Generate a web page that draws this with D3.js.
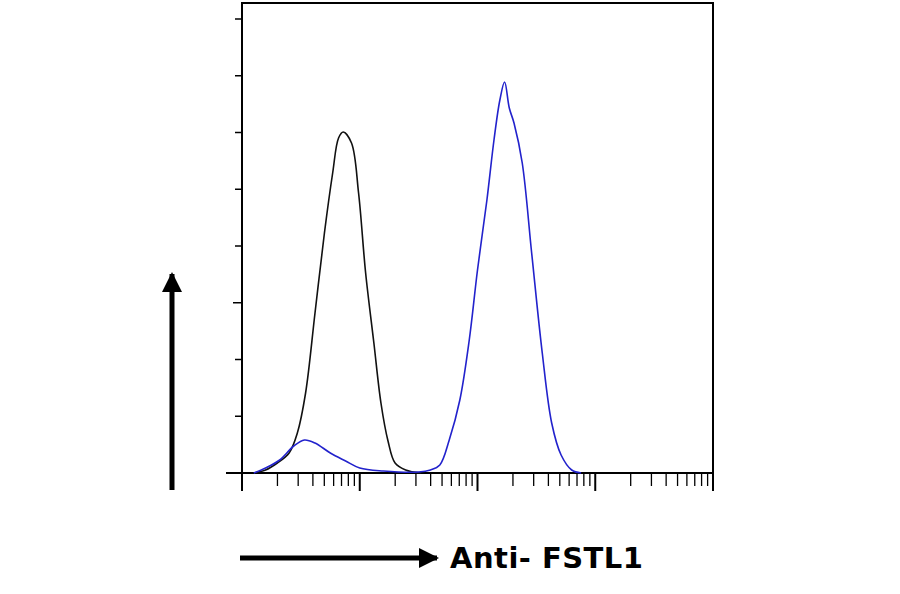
<!DOCTYPE html><html><head><meta charset="utf-8"><script src="https://cdn.jsdelivr.net/npm/d3@7"></script>
<style>body{margin:0;background:#fff}</style></head><body><svg id="c" width="900" height="594"></svg><script>
// x in decades (log10 of fluorescence, 10^0..10^4); y = event count
const blackX=[0.1,0.2,0.3,0.4,0.47,0.54,0.62,0.7,0.77,0.82,0.86,0.93,0.99,1.05,1.12,1.18,1.24,1.3,1.39,1.52];
const blackY=[0,3,10,20,40,80,160,240,300,335,341,330,280,200,130,70,32,10,3,0];
const blueX=[0.1,0.2,0.32,0.44,0.53,0.62,0.75,0.88,1.0,1.2,1.5,1.6,1.68,1.76,1.85,1.93,2.0,2.08,2.14,2.19,2.23,2.27,2.31,2.38,2.46,2.55,2.63,2.71,2.8,2.88];
const blueY=[0,5,13,27,33,30,20,12,5,2,1,3,8,33,73,133,203,273,333,373,391,365,350,310,220,120,50,18,3,0];
const xTickMajors=[0,1,2,3,4];
const yTicks=[0,1,2,3,4,5,6,7,8];
const xLabel="Anti- FSTL1";

const svg=d3.select("#c");
const x=d3.scaleLinear().domain([0,4]).range([242,713]);
const y=d3.scaleLinear().domain([0,470]).range([473,3]);
const yt=d3.scaleLinear().domain([0,8]).range([473,19]);
const g=svg.append("g").attr("stroke","#000").attr("fill","none");
g.append("rect").attr("x",242).attr("y",3).attr("width",471).attr("height",470).attr("stroke-width",2);
g.append("line").attr("x1",226).attr("x2",242).attr("y1",473).attr("y2",473).attr("stroke-width",2);
yTicks.forEach(t=>g.append("line").attr("x1",t===3?233:235).attr("x2",242).attr("y1",yt(t)).attr("y2",yt(t)).attr("stroke-width",1.5));
xTickMajors.forEach(d=>{
  g.append("line").attr("x1",x(d)).attr("x2",x(d)).attr("y1",473).attr("y2",491).attr("stroke-width",2);
  if(d<4) for(let k=2;k<10;k++){const xv=x(d+Math.log10(k));
    g.append("line").attr("x1",xv).attr("x2",xv).attr("y1",473).attr("y2",486).attr("stroke-width",1.3);}
});
const line=d3.line().x((d,i)=>x(d[0])).y(d=>y(d[1])).curve(d3.curveCatmullRom);
svg.append("path").datum(blackX.map((v,i)=>[v,blackY[i]])).attr("d",line).attr("fill","none").attr("stroke","#111").attr("stroke-width",1.6);
svg.append("path").datum(blueX.map((v,i)=>[v,blueY[i]])).attr("d",line).attr("fill","none").attr("stroke","#2222cc").attr("stroke-width",1.6);
// arrows
const defs=svg.append("defs");
defs.append("marker").attr("id","ah").attr("viewBox","0 0 10 10").attr("refX",9).attr("refY",5).attr("markerWidth",5).attr("markerHeight",4).attr("orient","auto").append("path").attr("d","M0,0L10,5L0,10z").attr("fill","#000");
svg.append("line").attr("x1",172).attr("x2",172).attr("y1",490).attr("y2",274).attr("stroke","#000").attr("stroke-width",5).attr("marker-end","url(#ah)");
svg.append("line").attr("x1",240).attr("x2",437).attr("y1",558).attr("y2",558).attr("stroke","#000").attr("stroke-width",5).attr("marker-end","url(#ah)");
svg.append("text").attr("x",450).attr("y",568).attr("font-family","DejaVu Sans, sans-serif").attr("font-weight","bold").attr("font-size",29).attr("textLength",193).text(xLabel);
</script></body></html>
